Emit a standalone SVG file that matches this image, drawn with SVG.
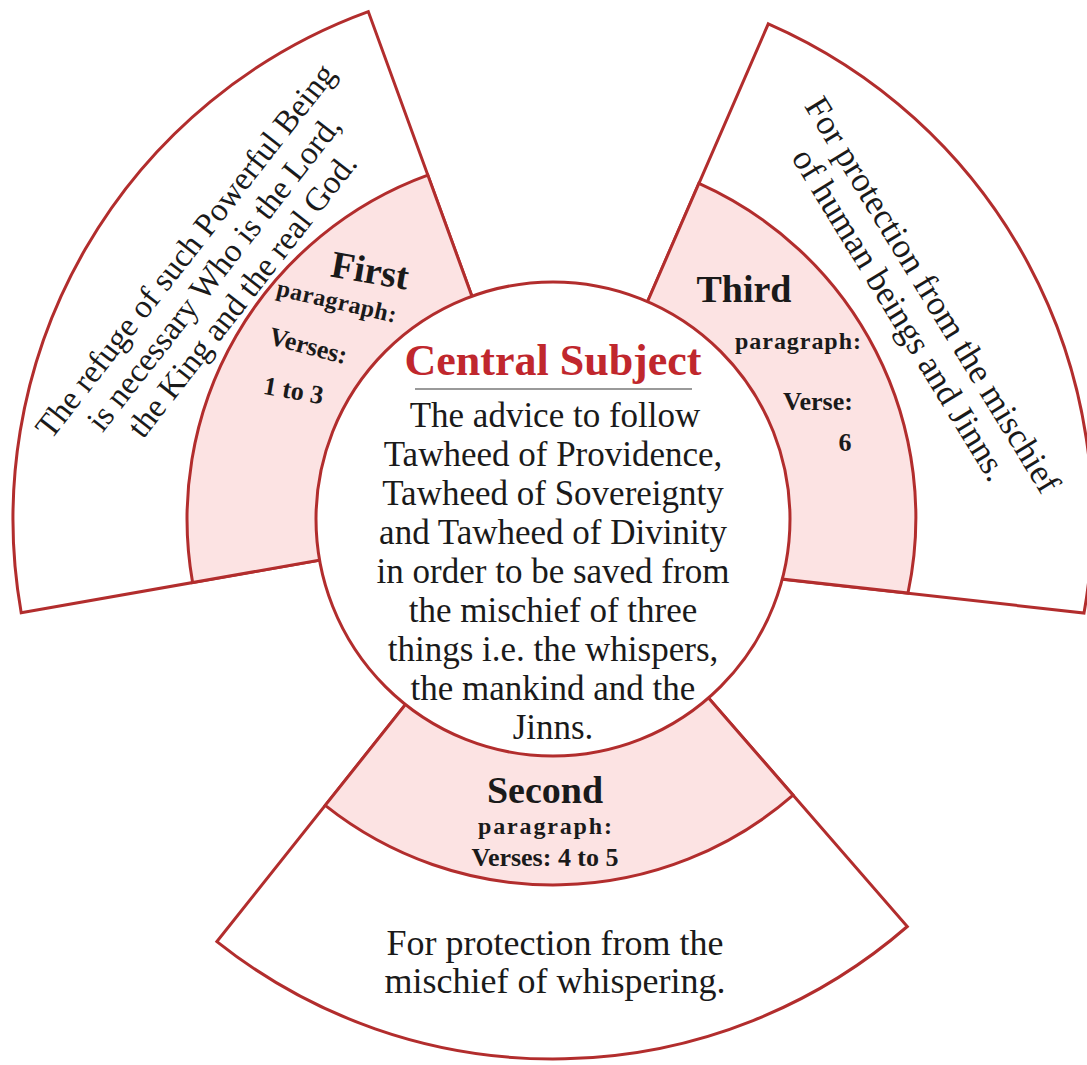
<svg xmlns="http://www.w3.org/2000/svg" width="1087" height="1065" viewBox="0 0 1087 1065">
<style>
.sec{fill:#ffffff;stroke:#b22d2d;stroke-width:3;stroke-linejoin:miter}
.band{fill:#fce3e3;stroke:#b22d2d;stroke-width:3;stroke-linejoin:miter}
.core{fill:#ffffff;stroke:#b22d2d;stroke-width:3}
text{font-family:"Liberation Serif","Times New Roman",serif;fill:#1a1a1a;text-anchor:middle}
.title{font-size:38px;font-weight:bold}
.para{font-size:24px;font-weight:bold}
.vers{font-size:26px;font-weight:bold}
.body{font-size:35px}
.outer{font-size:33px}
.outer2{font-size:35px}
.head{font-size:44px;font-weight:bold;fill:#c0272d}
</style>
<rect width="1087" height="1065" fill="#ffffff"/>
<g id="first">
<path class="sec" d="M405.3,545 L21.2,612.8 A540,540 0 0 1 368.3,11.6 L501.7,378 Z"/>
<path class="band" d="M405.3,545 L192.6,582.5 A366,366 0 0 1 427.8,175.1 L501.7,378 Z"/>
<g transform="translate(214.5,273.5) rotate(-52)">
<text class="outer" y="-26">The refuge of such Powerful Being</text>
<text class="outer" y="10">is necessary Who is the Lord,</text>
<text class="outer" y="46">the King and the real God.</text>
</g>
<text class="title" transform="translate(368,283) rotate(10)">First</text>
<text class="para" transform="translate(335,309) rotate(13)" textLength="122">paragraph:</text>
<text class="vers" transform="translate(306,354) rotate(15)">Verses:</text>
<text class="vers" transform="translate(292,399) rotate(10)">1 to 3</text>
</g>
<g id="third">
<path class="sec" d="M612.6,382 L768.3,23.8 A540,540 0 0 1 1084,613 L700,570 Z"/>
<path class="band" d="M612.6,382 L698.9,183.3 A366,366 0 0 1 908,593 L700,570 Z"/>
<g transform="translate(916,305) rotate(58.6)">
<text class="outer2" y="-8">For protection from the mischief</text>
<text class="outer2" y="30">of human beings and Jinns.</text>
</g>
<text class="title" x="744" y="302">Third</text>
<text class="para" x="798" y="349" textLength="126">paragraph:</text>
<text class="vers" x="818" y="410">Verse:</text>
<text class="vers" x="845" y="451">6</text>
</g>
<g id="second">
<path class="sec" d="M651.4,632.2 L907.3,926.5 A540,540 0 0 1 216.9,941.6 L459.6,636.4 Z"/>
<path class="band" d="M651.4,632.2 L793.1,795.2 A366,366 0 0 1 325.2,805.4 L459.6,636.4 Z"/>
<text class="title" x="545" y="803">Second</text>
<text class="para" x="545" y="834" textLength="134">paragraph:</text>
<text class="vers" x="545" y="866" textLength="147">Verses: 4 to 5</text>
<text class="body" x="555" y="955" style="font-size:36px">For protection from the</text>
<text class="body" x="555" y="993" style="font-size:36px">mischief of whispering.</text>
</g>
<g id="central">
<circle class="core" cx="553" cy="519" r="237"/>
<text class="head" x="553" y="375">Central Subject</text>
<line x1="415" y1="389" x2="692" y2="389" stroke="#9a9a9a" stroke-width="2"/>
<text class="body" x="555" y="427">The advice to follow</text>
<text class="body" x="553" y="466">Tawheed of Providence,</text>
<text class="body" x="553" y="505">Tawheed of Sovereignty</text>
<text class="body" x="553" y="544">and Tawheed of Divinity</text>
<text class="body" x="553" y="583">in order to be saved from</text>
<text class="body" x="553" y="622">the mischief of three</text>
<text class="body" x="553" y="661">things i.e. the whispers,</text>
<text class="body" x="553" y="700">the mankind and the</text>
<text class="body" x="553" y="739">Jinns.</text>
</g>
<g id="connectors"></g>
</svg>
